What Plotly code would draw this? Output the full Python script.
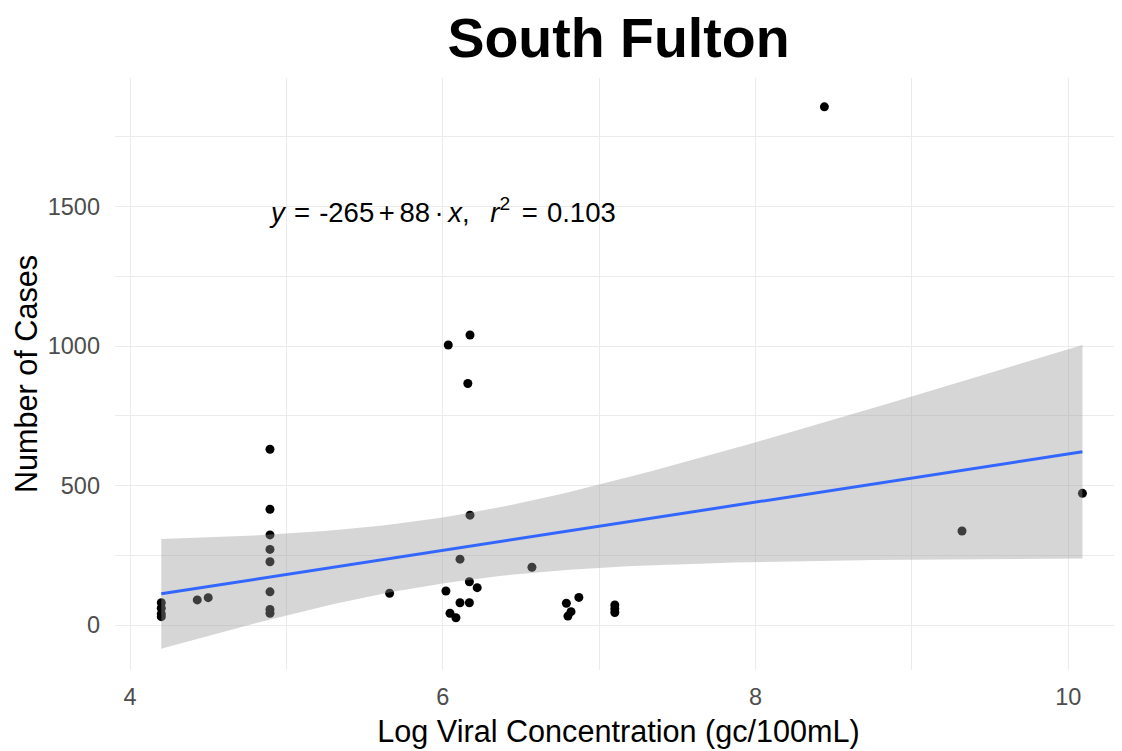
import numpy as np
import plotly.graph_objects as go

# ---- data ----
log_conc = [4.20, 4.20, 4.20, 4.20, 4.43, 4.50,
            4.895, 4.895, 4.895, 4.895, 4.895, 4.895, 4.895, 4.895,
            5.66, 6.02, 6.035, 6.046, 6.084, 6.11, 6.11, 6.16,
            6.174, 6.174, 6.17, 6.17, 6.22, 6.57,
            6.79, 6.80, 6.82, 6.87, 7.10, 7.10, 7.10,
            8.44, 9.32, 10.09]
cases = [80, 60, 40, 30, 90, 98,
         630, 415, 323, 271, 227, 119, 56, 42,
         114, 122, 1004, 42, 26, 236, 80, 866,
         1040, 394, 155, 80, 134, 207,
         78, 32, 48, 99, 72, 58, 45,
         1858, 337, 472]

title_text = "South Fulton"
x_title = "Log Viral Concentration (gc/100mL)"
y_title = "Number of Cases"
x_ticks = [4, 6, 8, 10]
x_minor = [5, 7, 9]
y_ticks = [0, 500, 1000, 1500]
y_minor = [250, 750, 1250, 1750]
eq_label = ("<i>y</i>\u2004=\u2004-265\u2006+\u200688\u2006·\u2006<i>x</i>,\u2002\u2005"
            "<i>r</i><sup>2</sup>\u200a\u2004=\u20040.103")

# ---- linear fit with 95% confidence band (like geom_smooth(method='lm')) ----
x = np.array(log_conc, dtype=float)
y = np.array(cases, dtype=float)
n = len(x)
slope, intercept = np.polyfit(x, y, 1)
xs = np.linspace(x.min(), x.max(), 80)
fit = intercept + slope * xs
resid = y - (intercept + slope * x)
s = np.sqrt(np.sum(resid ** 2) / (n - 2))
sxx = np.sum((x - x.mean()) ** 2)
t_crit = 2.028  # t quantile 0.975, df = n - 2
se = s * np.sqrt(1.0 / n + (xs - x.mean()) ** 2 / sxx)
upper = fit + t_crit * se
lower = fit - t_crit * se

FONT = "Liberation Sans, Arial, sans-serif"
GRID = "#EBEBEB"

fig = go.Figure()
fig.add_trace(go.Scatter(x=log_conc, y=cases, mode="markers",
                         marker=dict(color="black", size=9, line=dict(width=0)),
                         hoverinfo="x+y"))
fig.add_trace(go.Scatter(x=np.concatenate([xs, xs[::-1]]),
                         y=np.concatenate([upper, lower[::-1]]),
                         mode="lines", fill="toself",
                         fillcolor="rgba(153,153,153,0.4)",
                         line=dict(width=0), hoverinfo="skip"))
fig.add_trace(go.Scatter(x=xs, y=fit, mode="lines",
                         line=dict(color="#3366FF", width=3),
                         hoverinfo="skip"))

fig.add_annotation(x=4.876, y=1488, xref="x", yref="y", text=eq_label,
                   showarrow=False, xanchor="left", yanchor="middle",
                   font=dict(family=FONT, size=27.5, color="black"))

fig.update_layout(
    width=1122, height=751,
    margin=dict(l=107, r=8, t=70, b=89),
    paper_bgcolor="white", plot_bgcolor="white",
    showlegend=False,
    font=dict(family=FONT),
    title=dict(text="<b>" + title_text + "</b>", x=0.5, xref="paper",
               y=1 - 30 / 751, yref="container", xanchor="center", yanchor="middle",
               font=dict(family=FONT, size=55.5, color="black")),
    xaxis=dict(range=[3.904, 10.343], tickvals=x_ticks,
               showgrid=True, gridcolor=GRID, gridwidth=1.3,
               minor=dict(tickvals=x_minor, showgrid=True, gridcolor=GRID, gridwidth=1.3),
               zeroline=False, showline=False, ticks="", ticklabelstandoff=10,
               tickfont=dict(size=23.5, color="#4D4D4D"),
               title=dict(text=x_title, font=dict(size=30.6, color="black"), standoff=12)),
    yaxis=dict(range=[-161.3, 1961.3], tickvals=y_ticks,
               showgrid=True, gridcolor=GRID, gridwidth=1.3,
               minor=dict(tickvals=y_minor, showgrid=True, gridcolor=GRID, gridwidth=1.3),
               zeroline=False, showline=False, ticks="", ticklabelstandoff=14,
               tickfont=dict(size=23.5, color="#4D4D4D"),
               title=dict(text=y_title, font=dict(size=30.6, color="black"), standoff=1)),
)

fig.write_html("out.html")
